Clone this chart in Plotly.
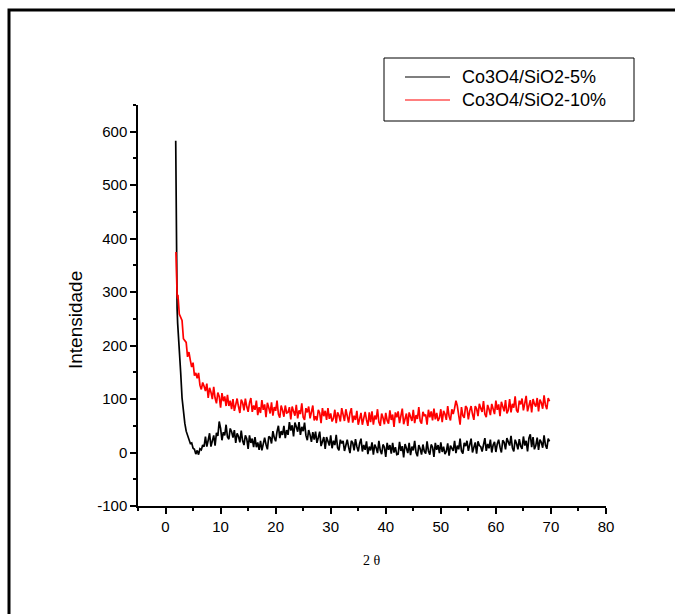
import numpy as np
import plotly.graph_objects as go

# ---- data ----
name_a = "Co3O4/SiO2-5%"
name_b = "Co3O4/SiO2-10%"

# steep start of each pattern (explicit 2-theta positions)
head_x_a = [1.85, 1.9, 2.0, 2.1, 2.2]
head_y_a = [583, 470, 330, 270, 242]
head_x_b = [1.9, 1.95, 2.0, 2.1, 2.2]
head_y_b = [375, 340, 305, 295, 288]

# remaining points, every 0.25 degree from 2.25 to 69.75
grid_start = 2.25
grid_step = 0.25

vals_a = [
    235, 197, 150, 102, 70, 55, 40, 31, 26, 17, 18, 8, 6, -3, 4, -4, 7, 5, 14, 11,
    30, 11, 23, 36, 11, 22, 32, 13, 37, 31, 58, 45, 23, 38, 32, 52, 29, 25, 45, 39,
    28, 42, 18, 36, 30, 19, 41, 22, 14, 32, 26, 7, 32, 18, 26, 10, 29, 10, 19, 5,
    22, 4, 19, 28, 15, 6, 30, 28, 17, 40, 28, 21, 39, 50, 27, 40, 33, 50, 27, 42,
    33, 57, 41, 51, 30, 56, 48, 39, 57, 33, 48, 40, 56, 32, 23, 42, 33, 20, 38, 24,
    39, 18, 28, 39, 12, 20, 29, 7, 29, 21, 13, 32, 8, 22, 14, 33, 9, 4, 24, 17,
    22, 3, 16, 24, 10, -1, 22, 18, 4, 25, 11, 2, 17, 26, 2, 14, 5, 21, -3, 11,
    4, 19, -4, 15, 9, -1, 22, 4, -3, 15, 10, -8, 18, 5, 14, -2, 18, 0, 10, -4,
    -3, 20, 3, 12, -9, 16, 8, -1, 18, -5, 11, 4, 22, 0, -7, 14, 7, -4, 15, 2,
    -2, 21, 3, -4, 15, 10, -8, 18, 5, 14, -1, 19, 1, 11, -3, 2, 17, -6, 13, 8,
    3, 22, -1, 13, 6, 26, 3, -2, 18, 12, 22, 3, 14, 26, 0, 9, 19, -2, 21, 13,
    11, 2, 18, 27, 3, 16, 8, 24, 0, 14, 20, 1, 16, 24, 10, 0, 23, 19, 6, 27,
    20, 13, 31, 9, 2, 24, 17, 6, 25, 12, 7, 30, 13, 22, 2, 27, 34, 10, 29, 6,
    13, 28, 5, 24, 19, 9, 32, 14, 7, 26, 21,
]

vals_b = [
    295, 259, 252, 247, 213, 208, 206, 179, 188, 173, 160, 168, 144, 149, 139, 149, 126, 118, 131, 124,
    115, 129, 102, 121, 113, 100, 123, 102, 92, 112, 105, 84, 111, 96, 105, 87, 108, 87, 97, 81,
    100, 78, 93, 101, 86, 74, 99, 93, 79, 101, 86, 76, 93, 102, 76, 88, 80, 97, 70, 85,
    74, 98, 80, 90, 66, 93, 84, 73, 94, 69, 85, 78, 97, 72, 65, 88, 79, 67, 88, 74,
    75, 85, 62, 86, 77, 69, 89, 64, 79, 72, 92, 66, 61, 83, 75, 86, 64, 76, 88, 60,
    68, 60, 80, 74, 55, 83, 68, 78, 61, 83, 63, 73, 58, 64, 80, 55, 75, 69, 58, 83,
    73, 59, 81, 66, 56, 74, 83, 56, 69, 61, 78, 52, 67, 74, 52, 67, 76, 61, 50, 75,
    57, 77, 52, 69, 62, 81, 57, 50, 73, 65, 53, 74, 60, 54, 79, 61, 71, 48, 75, 66,
    77, 55, 67, 82, 53, 63, 73, 50, 75, 67, 59, 80, 55, 70, 63, 85, 59, 54, 76, 69,
    71, 52, 80, 66, 77, 60, 82, 62, 74, 59, 65, 81, 57, 78, 72, 61, 87, 68, 60, 81,
    72, 83, 97, 87, 73, 52, 85, 69, 65, 87, 83, 62, 78, 87, 72, 61, 87, 82, 68, 91,
    83, 76, 96, 72, 66, 89, 81, 70, 91, 78, 72, 97, 80, 90, 68, 95, 86, 77, 98, 73,
    79, 100, 75, 91, 84, 105, 79, 75, 97, 90, 101, 79, 92, 106, 77, 87, 98, 75, 100, 91,
    86, 102, 77, 99, 93, 82, 107, 89, 81, 102, 96,
]

x_ticks = [0, 10, 20, 30, 40, 50, 60, 70, 80]
y_ticks = [-100, 0, 100, 200, 300, 400, 500, 600]
y_tick_text = ["-100", "0", "100", "200", "300", "400", "500", "600"]
x_title = "2 θ"
y_title = "Intensidade"

# ---- build series ----
grid_a = grid_start + grid_step * np.arange(len(vals_a))
grid_b = grid_start + grid_step * np.arange(len(vals_b))
xa = list(head_x_a) + list(grid_a)
ya = list(head_y_a) + list(vals_a)
xb = list(head_x_b) + list(grid_b)
yb = list(head_y_b) + list(vals_b)

COL_A = "#000000"
COL_B = "#ff0000"

fig = go.Figure()
fig.add_trace(go.Scatter(x=xa, y=ya, mode="lines", name=name_a,
                         line=dict(color=COL_A, width=1.7), showlegend=False))
fig.add_trace(go.Scatter(x=xb, y=yb, mode="lines", name=name_b,
                         line=dict(color=COL_B, width=1.7), showlegend=False))

axis_common = dict(
    showline=True, linecolor="black", linewidth=1.5, mirror=False,
    ticks="outside", ticklen=6, tickwidth=1.5, tickcolor="black",
    showgrid=False, zeroline=False,
    tickfont=dict(family="Liberation Sans, Arial", size=15, color="black"),
)

# plot area in pixels: left 138, right 606, top 105, bottom 506
L, R, T, B = 138, 606, 105, 506
W, H = R - L, B - T


def px(xp):
    return (xp - L) / W


def py(yp):
    return (B - yp) / H


shapes = [
    # outer frame (only top and left edges fall inside the picture)
    dict(type="rect", xref="paper", yref="paper",
         x0=px(9), y0=py(700), x1=px(720), y1=py(10),
         line=dict(color="black", width=3), fillcolor="rgba(0,0,0,0)"),
    # legend box
    dict(type="rect", xref="paper", yref="paper",
         x0=px(384), y0=py(121), x1=px(634), y1=py(58),
         line=dict(color="black", width=1), fillcolor="white"),
    dict(type="line", xref="paper", yref="paper",
         x0=px(405), y0=py(77), x1=px(450), y1=py(77),
         line=dict(color=COL_A, width=1.2)),
    dict(type="line", xref="paper", yref="paper",
         x0=px(405), y0=py(100), x1=px(450), y1=py(100),
         line=dict(color=COL_B, width=1.2)),
]

leg_font = dict(family="Liberation Sans, Arial", size=18, color="black")
annotations = [
    dict(text=name_a, xref="paper", yref="paper", x=px(460), y=py(77),
         xanchor="left", yanchor="middle", showarrow=False, font=leg_font),
    dict(text=name_b, xref="paper", yref="paper", x=px(460), y=py(100),
         xanchor="left", yanchor="middle", showarrow=False, font=leg_font),
    dict(text=y_title, xref="paper", yref="paper", x=px(75), y=py(320),
         xanchor="center", yanchor="middle", textangle=-90, showarrow=False,
         font=dict(family="Liberation Sans, Arial", size=19, color="black")),
    dict(text=x_title, xref="paper", yref="paper", x=px(372), y=py(560),
         xanchor="center", yanchor="middle", showarrow=False,
         font=dict(family="Liberation Serif", size=14, color="black")),
]

fig.update_layout(
    width=675, height=614,
    margin=dict(l=L, r=675 - R, t=T, b=614 - B),
    paper_bgcolor="white", plot_bgcolor="white",
    xaxis=dict(range=[-5, 80], tickvals=x_ticks,
               minor=dict(dtick=5, tick0=0, ticklen=3, tickwidth=1.5,
                          tickcolor="black", ticks="outside"),
               **axis_common),
    yaxis=dict(range=[-100, 650], tickvals=y_ticks, ticktext=y_tick_text,
               minor=dict(dtick=50, tick0=0, ticklen=3, tickwidth=1.5,
                          tickcolor="black", ticks="outside"),
               **axis_common),
    showlegend=False,
    shapes=shapes,
    annotations=annotations,
)

fig.write_html("out.html")
